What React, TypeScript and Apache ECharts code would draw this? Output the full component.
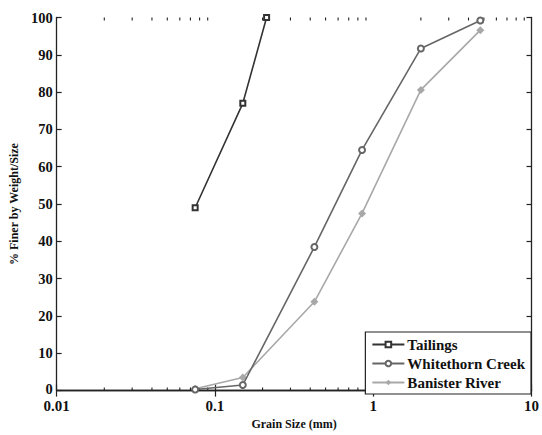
import React, { useEffect, useRef } from "react";
import * as echarts from "echarts";

const tailingsSize = [0.075, 0.15, 0.212];
const tailingsFiner = [49, 77, 100];
const whitethornSize = [0.075, 0.15, 0.425, 0.85, 2, 4.75];
const whitethornFiner = [0.3, 1.5, 38.5, 64.5, 91.7, 99.2];
const banisterSize = [0.075, 0.15, 0.425, 0.85, 2, 4.75];
const banisterFiner = [0.5, 3.5, 23.8, 47.5, 80.6, 96.6];
const minorTicks = [
  0.02, 0.03, 0.04, 0.05, 0.06, 0.07, 0.08, 0.09,
  0.2, 0.3, 0.4, 0.5, 0.6, 0.7, 0.8, 0.9,
  2, 3, 4, 5, 6, 7, 8, 9,
];
const seriesNames = ["Tailings", "Whitethorn Creek", "Banister River"];

const FONT = "'Liberation Serif', 'Times New Roman', serif";

function zip(xs: number[], ys: number[]) {
  return xs.map((x, i) => [x, ys[i]]);
}

export default function App() {
  const ref = useRef<HTMLDivElement>(null);
  useEffect(() => {
    document.body.style.margin = "0";
    const chart = echarts.init(ref.current!, null, { renderer: "svg" });
    const tickLabel = {
      fontFamily: FONT,
      fontWeight: "bold" as const,
      fontSize: 15,
      color: "#111",
    };
    const xBase = {
      type: "log" as const,
      logBase: 10,
      min: 0.01,
      max: 10,
      splitLine: { show: false },
      axisLine: { show: true, lineStyle: { color: "#222", width: 1.3 } },
      axisTick: { show: true, inside: true, length: 6, lineStyle: { color: "#222", width: 1.2 } },
    };
    const yBase = {
      type: "value" as const,
      min: 0,
      max: 100,
      interval: 10,
      splitLine: { show: false },
      axisLine: { show: true, lineStyle: { color: "#222", width: 1.3 } },
      axisTick: { show: true, inside: true, length: 5, lineStyle: { color: "#222", width: 1.2 } },
    };
    chart.setOption({
      animation: false,
      backgroundColor: "#fff",
      grid: { left: 54, right: 5, top: 17.5, bottom: 36, containLabel: false },
      xAxis: [
        {
          ...xBase,
          position: "bottom",
          name: "Grain Size (mm)",
          nameLocation: "middle",
          nameGap: 22,
          nameTextStyle: { fontFamily: FONT, fontWeight: "bold", fontSize: 12, color: "#111" },
          axisLabel: { ...tickLabel, margin: 9, lineHeight: 12 },
        },
        { ...xBase, position: "top", axisLabel: { show: false } },
      ],
      yAxis: [
        {
          ...yBase,
          position: "left",
          name: "% Finer by Weight/Size",
          nameLocation: "middle",
          nameGap: 33,
          nameTextStyle: { fontFamily: FONT, fontWeight: "bold", fontSize: 12, color: "#111" },
          axisLabel: {
            ...tickLabel,
            fontSize: 14.5,
            margin: 4,
            lineHeight: 11,
            formatter: (v: number) => (v === 0 ? "{z|0}" : String(v)),
            rich: { z: { fontFamily: FONT, fontWeight: "bold", fontSize: 14.5, color: "#111", lineHeight: 11, padding: [0, 0, 3, 0] } },
          },
        },
        { ...yBase, position: "right", axisLabel: { show: false } },
      ],
      legend: {
        orient: "vertical",
        right: 11,
        bottom: 41,
        data: seriesNames,
        backgroundColor: "#fff",
        borderColor: "#222",
        borderWidth: 1.2,
        padding: [5, 6, 4, 6],
        itemGap: 4,
        itemWidth: 32,
        itemHeight: 7,
        textStyle: { fontFamily: FONT, fontWeight: "bold", fontSize: 15, color: "#111", padding: [0, 0, 0, -2] },
      },
      series: [
        {
          type: "custom",
          xAxisIndex: 0,
          yAxisIndex: 0,
          silent: true,
          z: 1,
          data: minorTicks.map((t) => [t, 0]),
          renderItem: (params: any, api: any) => {
            const x = api.value(0);
            const b = api.coord([x, 0]);
            const t = api.coord([x, 100]);
            const st = { stroke: "#222", lineWidth: 1.1 };
            return {
              type: "group",
              children: [
                { type: "line", shape: { x1: b[0], y1: b[1], x2: b[0], y2: b[1] - 3 }, style: st },
                { type: "line", shape: { x1: t[0], y1: t[1], x2: t[0], y2: t[1] + 3 }, style: st },
              ],
            };
          },
        },
        {
          name: seriesNames[0],
          type: "line",
          data: zip(tailingsSize, tailingsFiner),
          symbol: "emptyRect",
          symbolSize: 5,
          color: "#333",
          lineStyle: { color: "#333", width: 1.6 },
          itemStyle: { color: "#333", borderWidth: 1.4 },
          z: 3,
        },
        {
          name: seriesNames[1],
          type: "line",
          data: zip(whitethornSize, whitethornFiner),
          symbol: "emptyCircle",
          symbolSize: 6,
          color: "#666",
          lineStyle: { color: "#666", width: 1.6 },
          itemStyle: { color: "#666", borderWidth: 1.4 },
          z: 3,
        },
        {
          name: seriesNames[2],
          type: "line",
          data: zip(banisterSize, banisterFiner),
          symbol: "diamond",
          symbolSize: 8,
          color: "#a8a8a8",
          lineStyle: { color: "#a8a8a8", width: 1.6 },
          itemStyle: { color: "#a8a8a8" },
          z: 2,
        },
      ],
    });
    return () => chart.dispose();
  }, []);
  return <div ref={ref} style={{ width: 542, height: 435 }} />;
}
